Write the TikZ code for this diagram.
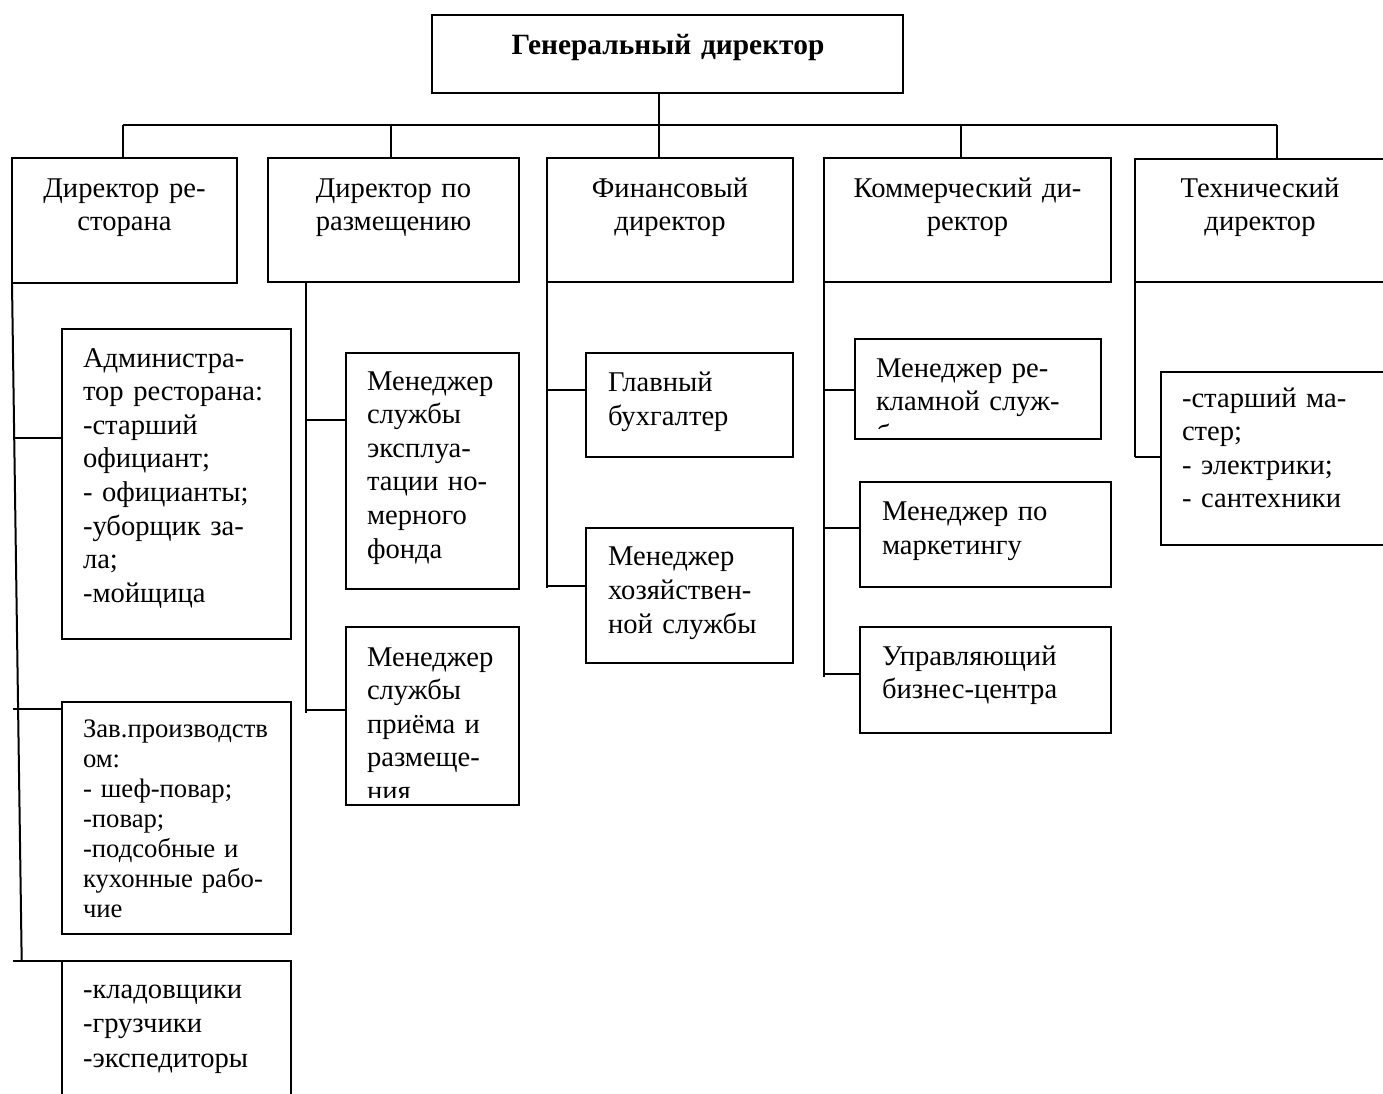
\documentclass[tikz,border=0pt]{standalone}
\usepackage{fontspec}
\setmainfont{Liberation Serif}
\usepackage{xcolor}
\usetikzlibrary{positioning}

\tikzset{
  orgbox/.style={draw=drawColor, line width=2pt, inner sep=0pt, outer sep=0pt, anchor=north west},
  orgline/.style={draw=drawColor, line width=2pt},
  ctxt/.style={text=drawColor, anchor=base, inner sep=0pt, outer sep=0pt, align=center, text width=300pt,
    font=\fontsize{28.6}{33.6}\selectfont},
  ltxt/.style={text=drawColor, anchor=base west, inner sep=0pt, outer sep=0pt, align=left, text width=300pt,
    font=\fontsize{28.6}{33.6}\selectfont}
}

\begin{document}
\begin{tikzpicture}[x=1pt,y=-1pt]
\definecolor{drawColor}{RGB}{0,0,0}
\path[use as bounding box] (0,0) rectangle (1383,1093);
\clip (0,0) rectangle (1383,1093);

% top and first row
\node[orgbox, minimum width=471, minimum height=78] (gd) at (432,15) {};
\node[orgbox, minimum width=225, minimum height=125] (dra) at (12,158) {};
\node[orgbox, minimum width=251, minimum height=124] (drz) at (268,158) {};
\node[orgbox, minimum width=246, minimum height=124] (fin) at (547,158) {};
\node[orgbox, minimum width=287, minimum height=124] (kom) at (824,158) {};
\node[orgbox, minimum width=260, minimum height=123] (teh) at (1135,159) {};

% second level
\node[orgbox, minimum width=229, minimum height=310] (adm) at (62,329) {};
\node[orgbox, minimum width=229, minimum height=232] (zav) at (62,702) {};
\node[orgbox, minimum width=229, minimum height=160] (skl) at (62,961) {};
\node[orgbox, minimum width=173, minimum height=236] (mex) at (346,353) {};
\node[orgbox, minimum width=173, minimum height=178] (mpr) at (346,627) {};
\node[orgbox, minimum width=207, minimum height=104] (glb) at (586,353) {};
\node[orgbox, minimum width=207, minimum height=135] (mhz) at (586,528) {};
\node[orgbox, minimum width=246, minimum height=100] (mrk) at (855,339) {};
\node[orgbox, minimum width=251, minimum height=105] (mmk) at (860,482) {};
\node[orgbox, minimum width=251, minimum height=106] (ubc) at (860,627) {};
\node[orgbox, minimum width=240, minimum height=173] (mas) at (1161,372) {};

% texts
\node[ctxt, text width=460pt, font=\fontsize{29.4}{34}\selectfont\bfseries] (gd-t) at (668,54) {Генеральный директор};
\node[ctxt] (dra-t) at (124.5,197) {Директор ре-\\сторана};
\node[ctxt] (drz-t) at (393.5,197) {Директор по\\размещению};
\node[ctxt] (fin-t) at (670,197) {Финансовый\\директор};
\node[ctxt] (kom-t) at (967.5,197) {Коммерческий ди-\\ректор};
\node[ctxt] (teh-t) at (1260,197) {Технический\\директор};

\node[ltxt] (adm-t) at (83,367) {Администра-\\тор ресторана:\\-старший\\официант;\\- официанты;\\-уборщик за-\\ла;\\-мойщица};
\node[ltxt, font=\fontsize{26.7}{30}\selectfont] (zav-t) at (83,737) {Зав.производств\\ом:\\- шеф-повар;\\-повар;\\-подсобные и\\кухонные рабо-\\чие};
\node[ltxt, font=\fontsize{28.6}{34.5}\selectfont] (skl-t) at (83,998) {-кладовщики\\-грузчики\\-экспедиторы};
\node[ltxt] (mex-t) at (367,390) {Менеджер\\службы\\эксплуа-\\тации но-\\мерного\\фонда};
\begin{scope}
\clip (346,627) rectangle (519,797);
\node[ltxt] (mpr-t) at (367,666) {Менеджер\\службы\\приёма и\\размеще-\\ния};
\end{scope}
\node[ltxt, font=\fontsize{28.6}{34}\selectfont] (glb-t) at (608,391) {Главный\\бухгалтер};
\node[ltxt, font=\fontsize{28.6}{34}\selectfont] (mhz-t) at (608,565) {Менеджер\\хозяйствен-\\ной службы};
\begin{scope}
\clip (855,339) rectangle (1101,428.5);
\node[ltxt] (mrk-t) at (876,377) {Менеджер ре-\\кламной служ-\\бы};
\end{scope}
\node[ltxt, font=\fontsize{28.6}{34}\selectfont] (mmk-t) at (882,520) {Менеджер по\\маркетингу};
\node[ltxt] (ubc-t) at (882,665) {Управляющий\\бизнес-центра};
\node[ltxt] (mas-t) at (1182,407) {-старший ма-\\стер;\\- электрики;\\- сантехники};

% bus from the general director
\coordinate (bus-dra) at (123,125);
\coordinate (bus-drz) at (391,125);
\coordinate (bus-fin) at (659,125);
\coordinate (bus-kom) at (961,125);
\coordinate (bus-teh) at (1277,125);
\path[orgline] (gd.south -| bus-fin) -- (bus-fin |- fin.north);
\path[orgline] (bus-dra) -- (bus-teh);
\path[orgline] (bus-dra) -- (bus-dra |- dra.north);
\path[orgline] (bus-drz) -- (bus-drz |- drz.north);
\path[orgline] (bus-kom) -- (bus-kom |- kom.north);
\path[orgline] (bus-teh) -- (bus-teh |- teh.north);

% trunks under the directors
\coordinate (dra-end) at (21.7,961);
\coordinate (drz-end) at (306,713);
\coordinate (fin-end) at (547,588);
\coordinate (kom-end) at (824,677);
\coordinate (teh-end) at (1135,457);
\path[orgline] (dra.south west) -- (dra-end);
\path[orgline] (drz-end |- drz.south) -- (drz-end);
\path[orgline] (fin.south west) -- (fin-end);
\path[orgline] (kom.south west) -- (kom-end);
\path[orgline] (teh.south west) -- (teh-end);

% branches
\coordinate (b-adm) at (12.5,437.7);
\coordinate (b-zav) at (12.5,709);
\coordinate (b-skl) at (12.5,961);
\coordinate (b-mex) at (306,420);
\coordinate (b-mpr) at (306,710);
\coordinate (b-glb) at (547,390);
\coordinate (b-mhz) at (547,586);
\coordinate (b-mrk) at (824,390);
\coordinate (b-mmk) at (824,528);
\coordinate (b-ubc) at (824,674);
\path[orgline] (b-adm) -- (b-adm -| adm.west);
\path[orgline] (b-zav) -- (b-zav -| zav.west);
\path[orgline] (b-skl) -- (skl.north west);
\path[orgline] (b-mex) -- (b-mex -| mex.west);
\path[orgline] (b-mpr) -- (b-mpr -| mpr.west);
\path[orgline] (b-glb) -- (b-glb -| glb.west);
\path[orgline] (b-mhz) -- (b-mhz -| mhz.west);
\path[orgline] (b-mrk) -- (b-mrk -| mrk.west);
\path[orgline] (b-mmk) -- (b-mmk -| mmk.west);
\path[orgline] (b-ubc) -- (b-ubc -| ubc.west);
\path[orgline] (teh-end) -- (teh-end -| mas.west);
\end{tikzpicture}
\end{document}
